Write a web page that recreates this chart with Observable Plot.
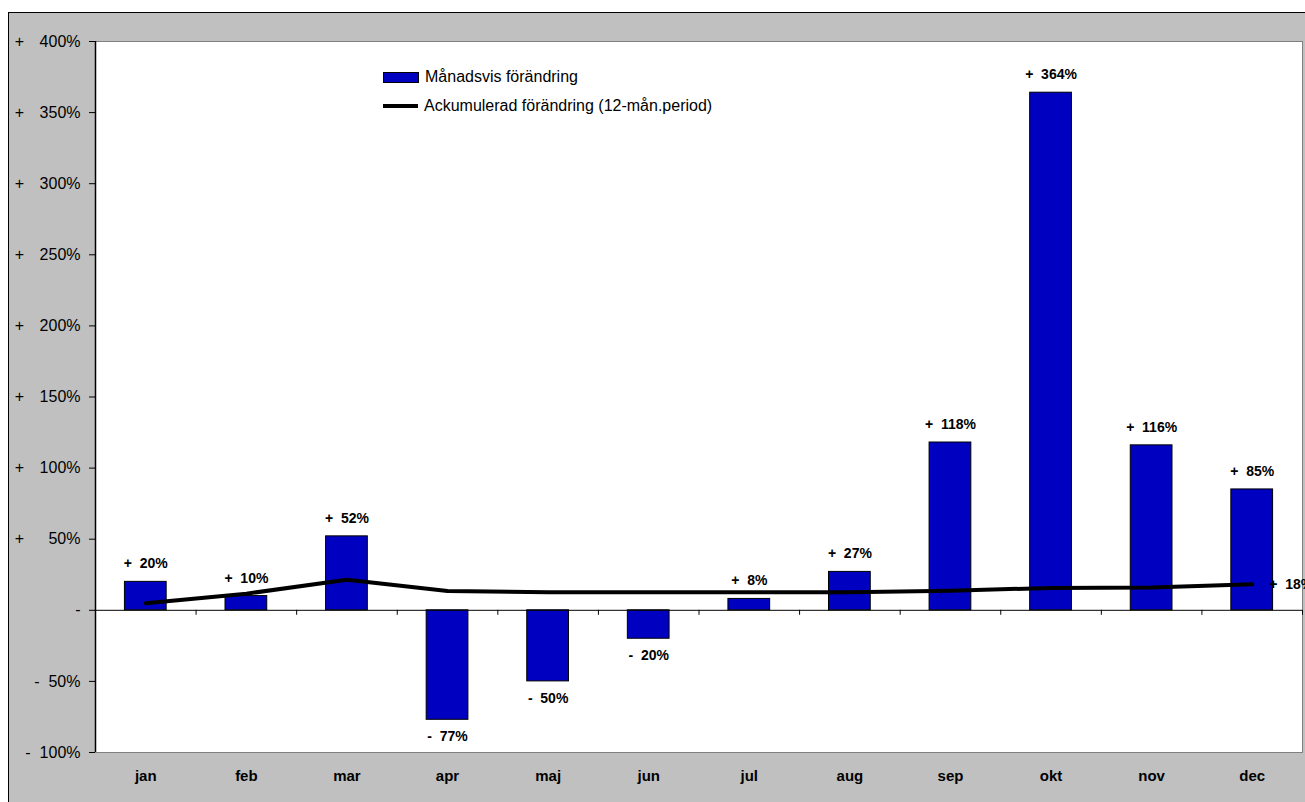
<!DOCTYPE html>
<html>
<head>
<meta charset="utf-8">
<script src="https://cdn.jsdelivr.net/npm/d3@7"></script>
<script src="https://cdn.jsdelivr.net/npm/@observablehq/plot@0.6"></script>
<style>
  html, body { margin: 0; padding: 0; overflow: hidden; background: white; }
  #wrap { position: relative; width: 1305px; height: 802px; overflow: hidden; font-family: "Liberation Sans", Arial, sans-serif; }
  #bg { position: absolute; left: 8px; top: 12px; width: 1400px; height: 900px; background: #c0c0c0; border: 1.5px solid #000; }
  #chart { position: absolute; left: 0; top: 0; }
  .leg { position: absolute; left: 383px; font-size: 16px; color: #000; display: flex; align-items: center; white-space: nowrap; }
  .sw-bar { width: 34px; height: 9px; background: #0000c0; border: 1px solid #000; margin-right: 6px; }
  .sw-line { width: 35px; height: 4px; background: #000; margin-right: 6px; }
</style>
</head>
<body>
<div id="wrap">
  <div id="bg"></div>
  <div id="chart"></div>
  <div class="leg" style="top:68px"><span class="sw-bar"></span><span id="leg1"></span></div>
  <div class="leg" style="top:97px"><span class="sw-line"></span><span id="leg2"></span></div>
</div>
<script>
const months = ["jan", "feb", "mar", "apr", "maj", "jun", "jul", "aug", "sep", "okt", "nov", "dec"];
const monthly = [20, 10, 52, -77, -50, -20, 8, 27, 118, 364, 116, 85];
const cumulative = [5, 11.7, 21.5, 13.5, 12.7, 12.7, 12.7, 12.7, 13.8, 15.7, 16, 18.4];
const yTicks = [-100, -50, 0, 50, 100, 150, 200, 250, 300, 350, 400];
const seriesNames = ["Månadsvis förändring", "Ackumulerad förändring (12-mån.period)"];

document.getElementById("leg1").textContent = seriesNames[0];
document.getElementById("leg2").textContent = seriesNames[1];

const NB = "\u00a0";
const fmtLabel = v => (v >= 0 ? "+" : "-") + NB + NB + Math.abs(Math.round(v)) + "%";

const data = months.map((m, i) => ({month: m, i, value: monthly[i], cum: cumulative[i]}));
const half = 0.2075; // half bar width in category units
const bounds = months.map((m, i) => i + 1);
const centers = months.map((m, i) => i + 0.5);
const posTicks = yTicks.filter(t => t > 0);

const labelStyle = {fontSize: 14, fontWeight: "bold", fill: "#000"};

const chart = Plot.plot({
  width: 1305,
  height: 802,
  marginLeft: 95,
  marginRight: 3,
  marginTop: 41,
  marginBottom: 50,
  style: {background: "transparent", fontFamily: "'Liberation Sans', Arial, sans-serif", overflow: "visible"},
  x: {type: "linear", domain: [0, 12], axis: null},
  y: {domain: [-100, 400], axis: null},
  marks: [
    Plot.frame({fill: "white", stroke: "#808080", strokeWidth: 1}),
    Plot.rect(data, {
      x1: d => d.i + 0.5 - half,
      x2: d => d.i + 0.5 + half,
      y1: 0,
      y2: "value",
      fill: "#0000c0",
      stroke: "#000",
      strokeWidth: 1
    }),
    Plot.ruleY([0], {stroke: "#000", strokeWidth: 1}),
    Plot.ruleX(bounds, {x: d => d, y1: 0, y2: -3.5, stroke: "#000", strokeWidth: 1}),
    Plot.ruleX([0], {stroke: "#000", strokeWidth: 1.5}),
    Plot.line(data, {x: d => d.i + 0.5, y: "cum", stroke: "#000", strokeWidth: 4, curve: "linear"}),
    Plot.text(data.filter(d => d.value >= 0), {
      x: d => d.i + 0.5,
      y: "value",
      text: d => fmtLabel(d.value),
      dy: -18,
      ...labelStyle
    }),
    Plot.text(data.filter(d => d.value < 0), {
      x: d => d.i + 0.5,
      y: "value",
      text: d => fmtLabel(d.value),
      dy: 17,
      ...labelStyle
    }),
    Plot.text(data.slice(-1), {
      x: d => d.i + 0.5,
      y: "cum",
      text: d => fmtLabel(d.cum),
      textAnchor: "start",
      dx: 17,
      ...labelStyle
    }),
    Plot.axisY({
      ticks: yTicks,
      tickSize: 6,
      tickPadding: 9,
      fontSize: 16,
      stroke: "#000",
      color: "#000",
      label: null,
      tickFormat: t => t > 0 ? t + "%" : t === 0 ? "-" : "-" + NB + NB + Math.abs(t) + "%"
    }),
    Plot.text(posTicks, {
      y: d => d,
      text: () => "+",
      frameAnchor: "left",
      dx: -76,
      textAnchor: "middle",
      fontSize: 16,
      fill: "#000"
    }),
    Plot.axisX({
      ticks: centers,
      tickSize: 0,
      tickPadding: 18,
      fontSize: 15,
      fontWeight: "bold",
      color: "#000",
      label: null,
      tickFormat: t => months[Math.floor(t)]
    })
  ]
});
document.getElementById("chart").appendChild(chart);
</script>
</body>
</html>
